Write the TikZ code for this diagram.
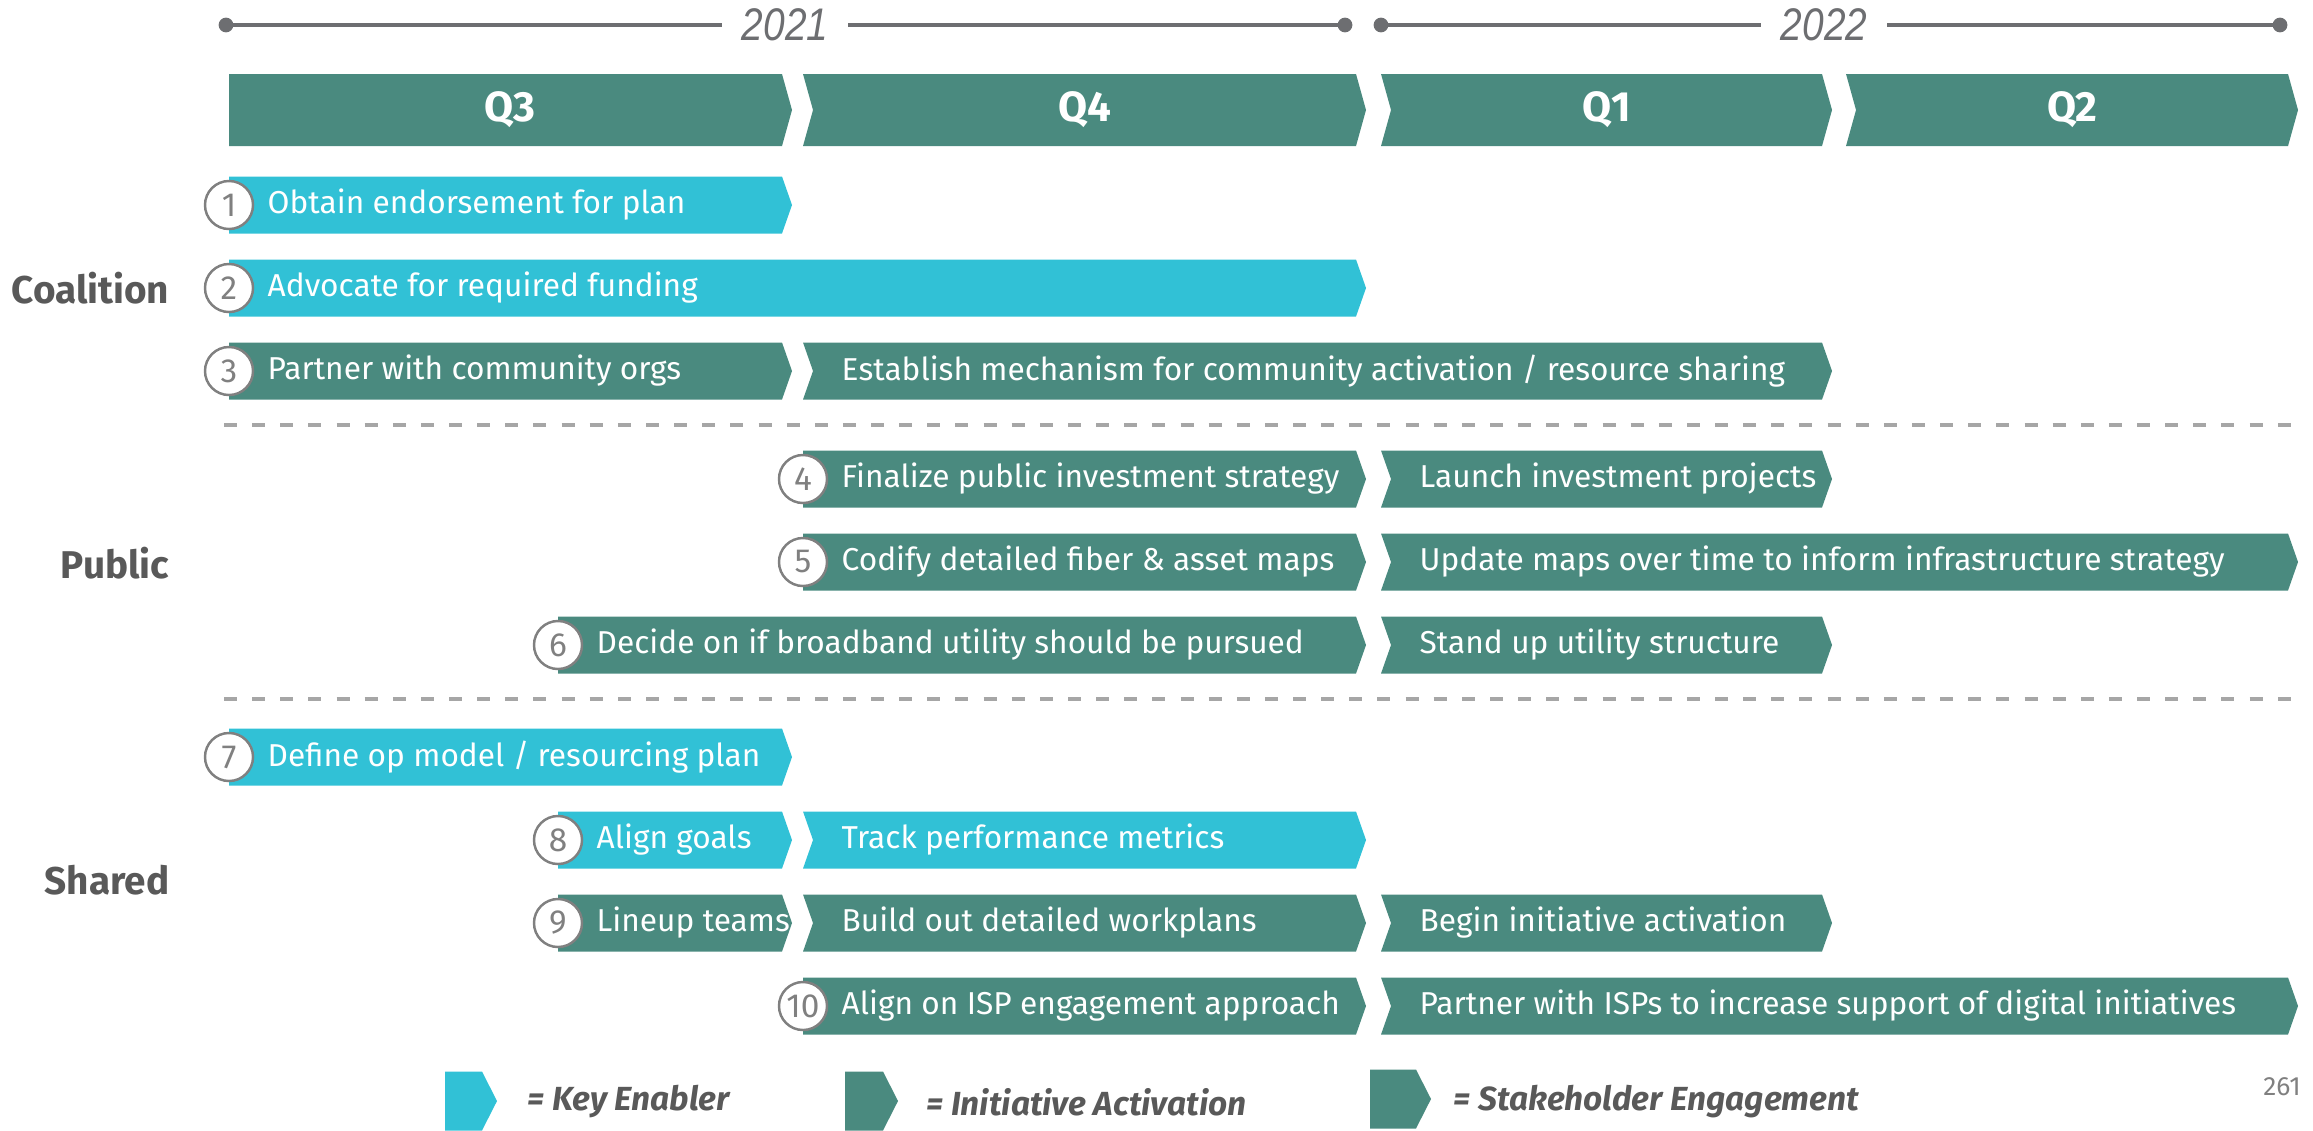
\documentclass[tikz,border=0pt]{standalone}
\usepackage{fontspec}
\setmainfont{Fira Sans}
\newfontfamily\yearfont[FakeStretch=0.85]{Liberation Sans}

\definecolor{barteal}{HTML}{4A8A7F}
\definecolor{barcyan}{HTML}{31C1D6}
\definecolor{labelgray}{HTML}{595959}
\definecolor{linegray}{HTML}{6D6E71}
\definecolor{dashgray}{HTML}{A6A6A6}
\definecolor{circgray}{HTML}{808080}

% style, left, right, y, half height, notch depth, tip depth
\newcommand{\chevbar}[7]{%
	\fill[#1] (#2,{#4-#5}) -- ({#3-#7},{#4-#5}) -- (#3,#4) -- ({#3-#7},{#4+#5}) -- (#2,{#4+#5}) -- ({#2+#6},#4) -- cycle;}

\tikzset{
	tealbar/.style={fill=barteal},
	cyanbar/.style={fill=barcyan},
	numcircle/.style={circle, draw=circgray, line width=0.7pt, fill=white, minimum size=0.48cm, inner sep=0pt, text=circgray, font=\fontsize{9.5}{11}\selectfont},
	tasklabel/.style={anchor=west, inner sep=0pt, text=white, font=\fontsize{9}{11}\selectfont},
	quarterlabel/.style={text=white, font=\fontsize{12}{14}\selectfont\bfseries},
	rowlabel/.style={anchor=east, inner sep=0pt, text=labelgray, font=\fontsize{11}{13}\selectfont\bfseries},
	yearlabel/.style={fill=white, inner xsep=0.2cm, text=linegray, font=\yearfont\itshape\fontsize{13}{15}\selectfont},
	timeline/.style={linegray, line width=1.2pt},
	divider/.style={dashgray, line width=1.1pt, dash pattern=on 3.7pt off 4.3pt},
	legendlabel/.style={anchor=west, inner sep=0pt, text=labelgray, font=\fontsize{9.5}{11}\selectfont\bfseries\itshape},
}

\begin{document}
\begin{tikzpicture}[x=0.01cm, y=-0.01cm]
	\useasboundingbox (0,0) rectangle (2313,1130);

	% years
	\coordinate (t1) at (226,25);
	\coordinate (t2) at (1345,25);
	\coordinate (t3) at (1381,25);
	\coordinate (t4) at (2280,25);
	\draw [timeline] (t1) -- (t2);
	\draw [timeline] (t3) -- (t4);
	\foreach \d in {t1,t2,t3,t4}
		\fill [linegray] (\d) circle (2.1pt);
	\node [yearlabel] (y2021) at (785,25) {2021};
	\node [yearlabel] (y2022) at (1824,25) {2022};

	% quarters
	\chevbar{tealbar}{229}{792}{110}{36}{0}{10}
	\chevbar{tealbar}{803}{1366}{110}{36}{10}{10}
	\chevbar{tealbar}{1381}{1832}{110}{36}{10}{10}
	\chevbar{tealbar}{1846}{2298}{110}{36}{10}{10}
	\node [quarterlabel] (q3) at (510,110) {Q3};
	\node [quarterlabel] (q4) at (1085,110) {Q4};
	\node [quarterlabel] (q1) at (1607,110) {Q1};
	\node [quarterlabel] (q2) at (2072,110) {Q2};

	% coalition
	\chevbar{cyanbar}{229}{792}{205}{28.5}{0}{10}
	\chevbar{cyanbar}{229}{1366}{288}{28.5}{0}{10}
	\chevbar{tealbar}{229}{792}{371}{28.5}{0}{10}
	\chevbar{tealbar}{803}{1832}{371}{28.5}{10}{10}
	\node [tasklabel] (a1) at (267,205) {Obtain endorsement for plan};
	\node [tasklabel] (a2) at (267,288) {Advocate for required funding};
	\node [tasklabel] (a3) at (267,371) {Partner with community orgs};
	\node [tasklabel] (b3) at (841,371) {Establish mechanism for community activation / resource sharing};
	\node [numcircle] (n1) at (229,205) {1};
	\node [numcircle] (n2) at (229,288) {2};
	\node [numcircle] (n3) at (229,371) {3};
	\node [rowlabel] (coalition) at (170,288) {Coalition};

	\draw [divider] (224,425) -- (2298,425);

	% public
	\chevbar{tealbar}{803}{1366}{479}{28.5}{0}{10}
	\chevbar{tealbar}{1381}{1832}{479}{28.5}{10}{10}
	\chevbar{tealbar}{803}{1366}{562}{28.5}{0}{10}
	\chevbar{tealbar}{1381}{2298}{562}{28.5}{10}{10}
	\chevbar{tealbar}{558}{1366}{645}{28.5}{0}{10}
	\chevbar{tealbar}{1381}{1832}{645}{28.5}{10}{10}
	\node [tasklabel] (a4) at (841,479) {Finalize public investment strategy};
	\node [tasklabel] (b4) at (1419,479) {Launch investment projects};
	\node [tasklabel] (a5) at (841,562) {Codify detailed fiber \& asset maps};
	\node [tasklabel] (b5) at (1419,562) {Update maps over time to inform infrastructure strategy};
	\node [tasklabel] (a6) at (596,645) {Decide on if broadband utility should be pursued};
	\node [tasklabel] (b6) at (1419,645) {Stand up utility structure};
	\node [numcircle] (n4) at (803,479) {4};
	\node [numcircle] (n5) at (803,562) {5};
	\node [numcircle] (n6) at (558,645) {6};
	\node [rowlabel] (public) at (170,563) {Public};

	\draw [divider] (224,699) -- (2298,699);

	% shared
	\chevbar{cyanbar}{229}{792}{757}{28.5}{0}{10}
	\chevbar{cyanbar}{558}{792}{840}{28.5}{0}{10}
	\chevbar{cyanbar}{803}{1366}{840}{28.5}{10}{10}
	\chevbar{tealbar}{558}{792}{923}{28.5}{0}{10}
	\chevbar{tealbar}{803}{1366}{923}{28.5}{10}{10}
	\chevbar{tealbar}{1381}{1832}{923}{28.5}{10}{10}
	\chevbar{tealbar}{803}{1366}{1006}{28.5}{0}{10}
	\chevbar{tealbar}{1381}{2298}{1006}{28.5}{10}{10}
	\node [tasklabel] (a7) at (267,757) {Define op model / resourcing plan};
	\node [tasklabel] (a8) at (596,840) {Align goals};
	\node [tasklabel] (b8) at (841,840) {Track performance metrics};
	\node [tasklabel] (a9) at (596,923) {Lineup teams};
	\node [tasklabel] (b9) at (841,923) {Build out detailed workplans};
	\node [tasklabel] (c9) at (1419,923) {Begin initiative activation};
	\node [tasklabel] (a10) at (841,1006) {Align on ISP engagement approach};
	\node [tasklabel] (b10) at (1419,1006) {Partner with ISPs to increase support of digital initiatives};
	\node [numcircle] (n7) at (229,757) {7};
	\node [numcircle] (n8) at (558,840) {8};
	\node [numcircle] (n9) at (558,923) {9};
	\node [numcircle] (n10) at (803,1006) {10};
	\node [rowlabel] (shared) at (170,880) {Shared};

	% legend
	\chevbar{cyanbar}{445}{497}{1101}{29.5}{0}{15}
	\chevbar{tealbar}{845}{898}{1101}{29.5}{0}{15}
	\chevbar{tealbar}{1370}{1431}{1099}{29.5}{0}{15}
	\node [legendlabel] (keyenabler) at (527,1102) {= Key Enabler};
	\node [legendlabel] (activation) at (926,1102) {= Initiative Activation};
	\node [legendlabel] (engagement) at (1453,1102) {= Stakeholder Engagement};

	\node [text=circgray, font=\fontsize{7.5}{9}\selectfont] (page) at (2282,1087) {261};
\end{tikzpicture}
\end{document}
